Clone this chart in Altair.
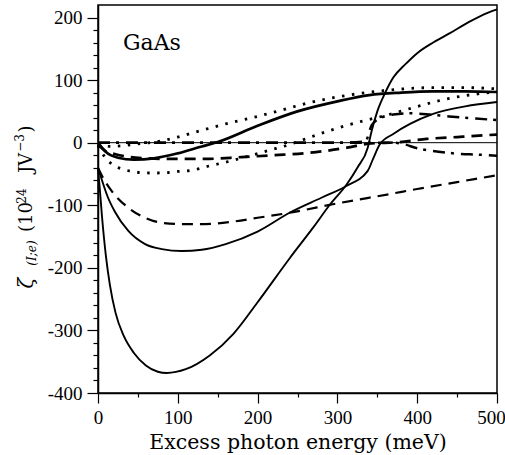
import altair as alt
import pandas as pd

# ---- data ----
A_x = [0, 10, 25, 45, 70, 100, 130, 150, 200, 250, 300, 340, 380, 420, 460, 500]
A_y = [0, -15, -24, -27, -25, -17, -6, 1, 27, 50, 66, 76, 80, 82, 82, 81]

B_x = [0, 2, 5, 10, 15, 22, 32, 45, 60, 75, 86, 110, 140, 170, 200, 240, 270, 290, 312, 325, 338, 343, 350, 360, 370, 385, 400, 420, 441, 465, 489, 500]
B_y = [-40, -70, -118, -182, -228, -272, -308, -336, -356, -366, -368, -362, -340, -305, -255, -185, -135, -100, -66, -40, -8, 19, 50, 80, 104, 125, 143, 160, 175, 193, 208, 213]

P_x = [0, 3, 6, 12, 21, 38, 59, 80, 105, 130, 160, 200, 240, 280, 310, 338, 345, 353, 370, 391, 420, 460, 500]
P_y = [-40, -52, -64, -86, -110, -141, -162, -170, -173, -171, -162, -142, -112, -88, -70, -45, -25, -3, 14, 30, 46, 58, 65]

E_x = [0, 3, 8, 17, 38, 59, 80, 105, 134, 170, 200, 240, 300, 366, 400, 450, 500]
E_y = [-40, -48, -60, -77, -104, -120, -128, -130, -130, -126, -120, -112, -97, -82, -74, -63, -52]

G_x = [0, 10, 21, 40, 60, 90, 134, 180, 220, 266, 312, 337, 378, 412, 450, 500]
G_y = [-3, -14, -18, -23, -25, -26, -26, -23, -20, -16, -8, -2, 1, 6, 9, 13]

D1_x = [0, 15, 30, 50, 65, 80, 100, 128, 160, 200, 230, 262, 300, 357, 420, 460, 500]
D1_y = [-3, -6, -5, -2, 0, 3, 9, 19, 30, 42, 52, 63, 73, 83, 88, 88, 86]

D2_x = [0, 8, 17, 30, 43, 55, 70, 85, 100, 118, 140, 167, 190, 215, 240, 260, 287, 310, 330, 362, 395, 441, 470, 500]
D2_y = [-5, -22, -34, -42, -46, -48, -48.5, -48, -46, -44, -37, -29, -21, -12, -3, 6, 18, 27, 34, 44, 56, 71, 77, 81]

FU_x = [0, 100, 200, 300, 335, 343, 355, 370, 390, 416, 440, 470, 500]
FU_y = [0, 0, 0, 0, 2, 28, 40, 45, 47, 45, 42, 39, 36]

FL_x = [0, 100, 200, 300, 370, 382, 400, 418, 437, 455, 474, 500]
FL_y = [0, 0, 0, 0, 0, -2, -9, -13, -16, -18, -19, -21]

ZERO = [0]

x_ticks = list(range(0, 501, 50))
y_ticks = list(range(-400, 201, 20))

SERIF = "Liberation Serif"
TITLE_SERIF = "DejaVu Serif"

x_enc = alt.X(
    "x:Q",
    scale=alt.Scale(domain=[0, 500], nice=False, zero=False),
    axis=alt.Axis(
        values=x_ticks,
        labelExpr="datum.value % 100 === 0 ? toString(datum.value) : ''",
        tickSize={"condition": {"test": "datum.value % 100 === 0", "value": 10}, "value": 4},
        labelOffset={"condition": {"test": "datum.value === 500", "value": -6}, "value": 0},
        labelPadding=5,
        title="Excess photon energy (meV)",
        titleFont=TITLE_SERIF,
        titleFontSize=20.5,
        titleFontWeight="normal",
        titleColor="black",
        titlePadding=5,
        labelFlush=False,
    ),
)
y_enc = alt.Y(
    "y:Q",
    scale=alt.Scale(domain=[-400, 220], nice=False, zero=False),
    axis=alt.Axis(
        values=y_ticks,
        labelExpr="datum.value % 100 === 0 ? toString(datum.value) : ''",
        tickSize={"condition": {"test": "datum.value % 100 === 0", "value": 11}, "value": 5},
        labelPadding=5,
        title=None,
        labelFlush=False,
    ),
)


def line(xs, ys, width, dash=None):
    df = pd.DataFrame({"x": xs, "y": ys})
    kw = dict(color="black", strokeWidth=width, interpolate="monotone", strokeCap="butt")
    if dash is not None:
        kw["strokeDash"] = dash
    return alt.Chart(df).mark_line(**kw).encode(x=x_enc, y=y_enc)


layers = []
layers.append(
    alt.Chart(pd.DataFrame({"y": ZERO})).mark_rule(color="black", strokeWidth=1).encode(y=y_enc)
)
layers.append(line(FU_x, FU_y, 2.5, [12, 6, 3, 7]))
layers.append(line(FL_x, FL_y, 2.5, [12, 6, 3, 7]))
layers.append(line(E_x, E_y, 2.2, [11, 7]))
layers.append(line(G_x, G_y, 2.7, [11, 7]))
layers.append(line(D1_x, D1_y, 2.8, [2.5, 7.5]))
layers.append(line(D2_x, D2_y, 2.8, [2.5, 7.5]))
layers.append(line(P_x, P_y, 1.9))
layers.append(line(B_x, B_y, 1.9))
layers.append(line(A_x, A_y, 2.7))

one = pd.DataFrame({"d": [0]})


def label(text, px, py, size, style="normal", align="left", angle=0, baseline="alphabetic", font=TITLE_SERIF):
    return alt.Chart(one).mark_text(
        text=text, font=font, fontSize=size, fontStyle=style, color="black",
        align=align, baseline=baseline, angle=angle,
    ).encode(x=alt.value(px), y=alt.value(py))


layers.append(label("GaAs", 25, 45, 22))

# composite rotated y-axis title
layers.append(label("ζ", -71, 278, 20, "italic", "center", 270, "middle"))
layers.append(label("(I;e)", -66, 248, 12, "italic", "center", 270, "middle"))
layers.append(label("(10", -71, 212, 18, "normal", "center", 270, "middle"))
layers.append(label("24", -76, 191, 12, "normal", "center", 270, "middle"))
layers.append(label("JV", -71, 158, 18, "normal", "center", 270, "middle"))
layers.append(label("−3", -78, 138, 12, "normal", "center", 270, "middle"))
layers.append(label(")", -71, 124, 18, "normal", "center", 270, "middle"))

chart = (
    alt.layer(*layers)
    .properties(
        width=399,
        height=388,
        autosize=alt.AutoSizeParams(type="none"),
        padding={"left": 98, "top": 5, "right": 8, "bottom": 62},
        background="white",
    )
    .configure_view(stroke="black", strokeWidth=1.5)
    .configure_axis(
        domainColor="black",
        domainWidth=1.5,
        tickColor="black",
        tickWidth=1.2,
        grid=False,
        labelFont=SERIF,
        labelFontSize=19,
        labelColor="black",
    )
)

chart.save("out.html", embed_options={"renderer": "svg", "actions": False})
